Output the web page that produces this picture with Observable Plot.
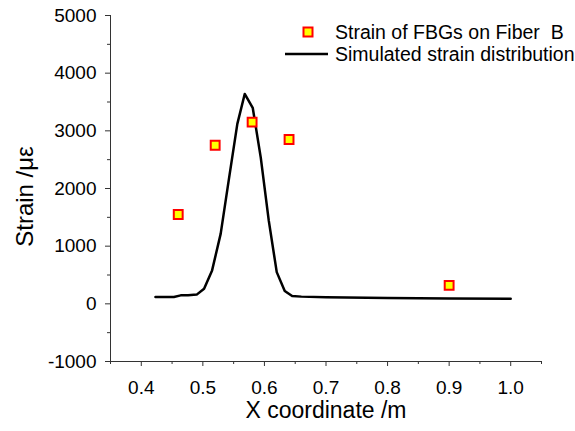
<!DOCTYPE html>
<html>
<head>
<meta charset="utf-8">
<script src="https://cdn.jsdelivr.net/npm/d3@7"></script>
<script src="https://cdn.jsdelivr.net/npm/@observablehq/plot@0.6"></script>
<style>
  html, body { margin: 0; padding: 0; background: #fff; }
</style>
</head>
<body>
<div id="chart"></div>
<script>
// Simulated strain distribution
const simX = [0.423, 0.453, 0.464, 0.476, 0.490, 0.502, 0.515, 0.529, 0.542, 0.556, 0.568, 0.581, 0.594, 0.607, 0.620, 0.633, 0.645, 0.66, 0.70, 0.80, 0.90, 1.00];
const simY = [120, 120, 147, 150, 160, 263, 580, 1217, 2140, 3120, 3640, 3400, 2540, 1447, 550, 222, 135, 125, 115, 100, 92, 90];

// Strain of FBGs on Fiber B
const fbgX = [0.46, 0.52, 0.58, 0.64, 0.90];
const fbgY = [1550, 2750, 3150, 2850, 320];

// Ticks
const xTicks = [0.4, 0.5, 0.6, 0.7, 0.8, 0.9, 1.0];
const xMinor = [0.35, 0.45, 0.55, 0.65, 0.75, 0.85, 0.95, 1.05];
const yTicks = [-1000, 0, 1000, 2000, 3000, 4000, 5000];
const yMinor = [-500, 500, 1500, 2500, 3500, 4500];

const legendLabels = ["Strain of FBGs on Fiber  B", "Simulated strain distribution"];
const xLabel = "X coordinate /m";
const yLabel = "Strain /\u03bc\u03b5";

const simData = simX.map((x, i) => ({x, y: simY[i]}));
const fbgData = fbgX.map((x, i) => ({x, y: fbgY[i]}));

const axisColor = "#333";

function legend(index, scales, values, dims) {
  const right = dims.width - dims.marginRight;
  const top = dims.marginTop;
  const g = d3.create("svg:g").attr("text-anchor", "start");
  // marker
  g.append("rect")
    .attr("x", right - 233 - 4.5).attr("y", top + 17 - 4.5)
    .attr("width", 9).attr("height", 9)
    .attr("fill", "#ffff00").attr("stroke", "#ff0000").attr("stroke-width", 2);
  g.append("text")
    .attr("x", right - 206).attr("y", top + 17).attr("dy", "0.35em")
    .attr("text-anchor", "start")
    .attr("font-size", 19.5).attr("fill", "#000")
    .style("white-space", "pre").attr("xml:space", "preserve")
    .text(legendLabels[0]);
  g.append("line")
    .attr("x1", right - 256).attr("x2", right - 213)
    .attr("y1", top + 39).attr("y2", top + 39)
    .attr("stroke", "#000").attr("stroke-width", 2.5);
  g.append("text")
    .attr("x", right - 206).attr("y", top + 39).attr("dy", "0.35em")
    .attr("text-anchor", "start")
    .attr("font-size", 19.5).attr("fill", "#000")
    .text(legendLabels[1]);
  return g.node();
}

const chart = Plot.plot({
  width: 575,
  height: 431,
  marginLeft: 110,
  marginRight: 34,
  marginTop: 15,
  marginBottom: 70,
  style: {fontFamily: "'Liberation Sans', Arial, sans-serif", fontSize: "19px", background: "#fff", color: "#000"},
  x: {domain: [0.35, 1.05]},
  y: {domain: [-1000, 5000]},
  marks: [
    Plot.axisX({ticks: xTicks, tickSize: 5, tickPadding: 14, tickFormat: d3.format(".1f"), label: null, stroke: axisColor, fontSize: 19}),
    Plot.axisX({ticks: xMinor, tickSize: 3, tickFormat: () => "", label: null, stroke: axisColor}),
    Plot.axisY({ticks: yTicks, tickSize: 5, tickPadding: 9, tickFormat: d => String(d), label: null, stroke: axisColor, fontSize: 19}),
    Plot.axisY({ticks: yMinor, tickSize: 3, tickFormat: () => "", label: null, stroke: axisColor}),
    Plot.ruleX([0.35], {stroke: axisColor}),
    Plot.ruleY([-1000], {stroke: axisColor}),
    Plot.line(simData, {x: "x", y: "y", stroke: "#000", strokeWidth: 2.5}),
    Plot.dot(fbgData, {x: "x", y: "y", symbol: "square", r: 5, fill: "#ffff00", stroke: "#ff0000", strokeWidth: 2}),
    Plot.text([xLabel], {frameAnchor: "bottom", dy: 56, fontSize: 23, fill: "#000"}),
    Plot.text([yLabel], {frameAnchor: "left", textAnchor: "middle", dx: -85, dy: 8, rotate: -90, fontSize: 24, fill: "#000"}),
    legend
  ]
});
document.getElementById("chart").appendChild(chart);
</script>
</body>
</html>
